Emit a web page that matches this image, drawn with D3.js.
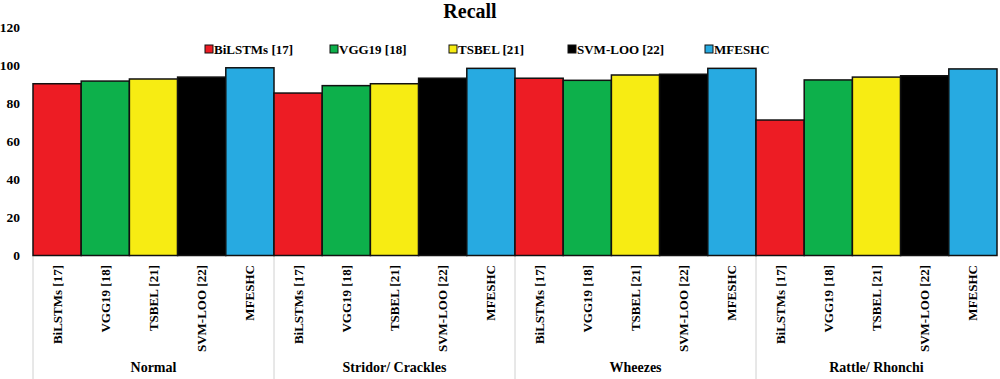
<!DOCTYPE html>
<html>
<head>
<meta charset="utf-8">
<script src="https://cdn.jsdelivr.net/npm/d3@7"></script>
<style>
body { margin: 0; background: #fff; }
svg { display: block; font-family: "Liberation Serif", "Times New Roman", serif; font-weight: bold; }
</style>
</head>
<body>
<svg id="chart" width="1000" height="379"></svg>
<script>
const groups = ["Normal", "Stridor/ Crackles", "Wheezes", "Rattle/ Rhonchi"];
const methods = ["BiLSTMs [17]", "VGG19 [18]", "TSBEL [21]", "SVM-LOO [22]", "MFESHC"];
const colors = ["#ed1c24", "#0db04b", "#f7ec13", "#000000", "#27aae1"];
const bilstm = [90.4, 85.5, 93.3, 71.3];
const vgg19 = [91.8, 89.4, 92.2, 92.4];
const tsbel = [92.9, 90.4, 95.0, 93.9];
const svmloo = [93.9, 93.3, 95.4, 94.6];
const mfeshc = [98.8, 98.5, 98.5, 98.2];
const yTicks = [0, 20, 40, 60, 80, 100, 120];
const series = [bilstm, vgg19, tsbel, svmloo, mfeshc];

const svg = d3.select("#chart");
const mLeft = 33, mRight = 997, mTop = 27.5, mBottom = 255.5;

const y = d3.scaleLinear().domain([0, 120]).range([mBottom, mTop]);
const x0 = d3.scaleBand().domain(groups).range([mLeft, mRight]).padding(0);
const x1 = d3.scaleBand().domain(methods).range([0, x0.bandwidth()]).padding(0);

// Title
svg.append("text").attr("x", 470).attr("y", 18).attr("text-anchor", "middle")
  .attr("font-size", 20).text("Recall");

// Y axis labels
const yAxis = d3.axisLeft(y).tickValues(yTicks).tickSize(0).tickPadding(0);
const ya = svg.append("g").attr("transform", `translate(20,0)`).call(yAxis);
ya.select(".domain").remove();
ya.selectAll("text").attr("font-size", 13.5).attr("font-family", "Liberation Serif").attr("font-weight", "bold").attr("fill", "#000");

// Group separators
svg.append("g").selectAll("line")
  .data(groups).join("line")
  .attr("x1", d => x0(d)).attr("x2", d => x0(d))
  .attr("y1", mBottom).attr("y2", 379)
  .attr("stroke", "#d0d0d0").attr("stroke-width", 1);

// Bars
const g = svg.append("g");
groups.forEach((grp, gi) => {
  methods.forEach((m, mi) => {
    const v = series[mi][gi];
    g.append("rect")
      .attr("x", x0(grp) + x1(m))
      .attr("y", y(v))
      .attr("width", x1.bandwidth())
      .attr("height", y(0) - y(v))
      .attr("fill", colors[mi])
      .attr("stroke", "#111")
      .attr("stroke-width", 1.5);
  });
});

// Category labels (rotated)
groups.forEach(grp => {
  methods.forEach(m => {
    const cx = x0(grp) + x1(m) + x1.bandwidth() / 2;
    svg.append("text")
      .attr("transform", `translate(${cx + 4.5},265) rotate(-90)`)
      .attr("text-anchor", "end")
      .attr("font-size", 13)
      .text(m);
  });
  svg.append("text")
    .attr("x", x0(grp) + x0.bandwidth() / 2)
    .attr("y", 372)
    .attr("text-anchor", "middle")
    .attr("font-size", 14)
    .text(grp);
});

// Legend
const legendX = [205, 330, 449, 568, 705];
const lg = svg.append("g");
methods.forEach((m, i) => {
  lg.append("rect").attr("x", legendX[i]).attr("y", 45).attr("width", 8).attr("height", 8)
    .attr("fill", colors[i]).attr("stroke", "#111").attr("stroke-width", 1);
  lg.append("text").attr("x", legendX[i] + 9).attr("y", 54).attr("font-size", 13).text(m);
});
</script>
</body>
</html>
